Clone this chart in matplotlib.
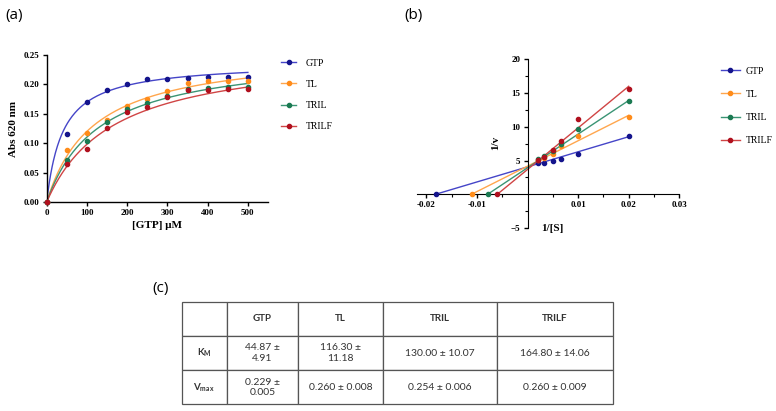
import matplotlib
matplotlib.use("Agg")
import matplotlib.pyplot as plt
import numpy as np

# ---- panel (a) : Michaelis-Menten ----
names = ["GTP", "TL", "TRIL", "TRILF"]
conc = [0, 50, 100, 150, 200, 250, 300, 350, 400, 450, 500]
abs_gtp = [0, 0.115, 0.170, 0.190, 0.200, 0.210, 0.210, 0.211, 0.213, 0.212, 0.213]
abs_tl = [0, 0.088, 0.117, 0.139, 0.163, 0.175, 0.189, 0.202, 0.206, 0.206, 0.205]
abs_tril = [0, 0.072, 0.104, 0.136, 0.158, 0.169, 0.180, 0.192, 0.194, 0.195, 0.195]
abs_trilf = [0, 0.064, 0.090, 0.126, 0.153, 0.161, 0.179, 0.190, 0.191, 0.192, 0.192]
fit_km = [40.0, 116.3, 130.0, 164.8]
fit_vmax = [0.238, 0.260, 0.254, 0.260]

# ---- panel (b) : Lineweaver-Burk ----
inv_s = [0.002, 0.00333, 0.005, 0.00667, 0.01, 0.02]
inv_v_gtp = [4.65, 4.70, 5.00, 5.25, 5.94, 8.66]
inv_v_tl = [5.15, 5.35, 6.00, 7.20, 8.70, 11.40]
inv_v_tril = [5.20, 5.70, 6.40, 7.50, 9.65, 13.86]
inv_v_trilf = [5.15, 5.50, 6.55, 7.95, 11.10, 15.60]
lb_xint = [-0.01815, -0.01105, -0.00787, -0.00596]
lb_yend = [8.53, 11.70, 13.90, 16.00]

# ---- panel (c) : table ----
col_labels = ["", "GTP", "TL", "TRIL", "TRILF"]
row_labels = ["K$_\\mathregular{M}$", "V$_\\mathregular{max}$"]
km_text = ["44.87 \u00b1\n4.91", "116.30 \u00b1\n11.18", "130.00 \u00b1 10.07", "164.80 \u00b1 14.06"]
vmax_text = ["0.229 \u00b1\n0.005", "0.260 \u00b1 0.008", "0.254 \u00b1 0.006", "0.260 \u00b1 0.009"]

mark_cols = ["#14148c", "#ff8c1a", "#1b7a52", "#b0101e"]
line_cols = ["#4545c8", "#ffa64d", "#3a9474", "#d04545"]

W, H = 776, 411
fig = plt.figure(figsize=(W / 100, H / 100), dpi=100)
serif = "Liberation Serif"

def fx(px):
    return px / W

def fy(py):
    return 1 - py / H

# (a)
ax1 = fig.add_axes([fx(46.7), fy(202), fx(268 - 46.7), (202 - 55) / H])
data_a = [abs_gtp, abs_tl, abs_tril, abs_trilf]
xs = np.linspace(0, 500, 300)
for k in range(4):
    curve = fit_vmax[k] * xs / (fit_km[k] + xs)
    ax1.plot(xs, curve, color=line_cols[k], lw=1.0, zorder=2)
    ax1.plot(conc, data_a[k], 'o', color=mark_cols[k], ms=3, zorder=3, clip_on=False)
ax1.set_xlim(0, 550)
ax1.set_ylim(0, 0.25)
ax1.set_xticks([0, 100, 200, 300, 400, 500])
ax1.set_yticks([0, 0.05, 0.10, 0.15, 0.20, 0.25])
ax1.set_yticklabels(["0.00", "0.05", "0.10", "0.15", "0.20", "0.25"])
for s in ["top", "right"]:
    ax1.spines[s].set_visible(False)
for s in ["left", "bottom"]:
    ax1.spines[s].set_linewidth(1.0)
ax1.tick_params(labelsize=6.5, length=3, width=1.0, pad=2)
for lab in ax1.get_xticklabels() + ax1.get_yticklabels():
    lab.set_fontfamily(serif)
    lab.set_fontweight("bold")
ax1.set_ylabel("Abs 620 nm", fontfamily=serif, fontweight="bold", fontsize=8, labelpad=4)
ax1.set_xlabel("[GTP] \u03bcM", fontfamily=serif, fontweight="bold", fontsize=8, labelpad=3)

h1 = [plt.Line2D([], [], color=line_cols[k], lw=1.0, marker='o', ms=3,
                 mfc=mark_cols[k], mec=mark_cols[k]) for k in range(4)]
fig.legend(h1, names, loc="upper left", bbox_to_anchor=(fx(272), fy(50)),
           frameon=False, prop={"family": serif, "size": 7}, handlelength=1.6,
           handletextpad=1.0, labelspacing=1.25)

# (b)
ax2 = fig.add_axes([fx(416.7), fy(228), fx(679.3 - 416.7), (228 - 59.3) / H])
data_b = [inv_v_gtp, inv_v_tl, inv_v_tril, inv_v_trilf]
for k in range(4):
    ax2.plot([lb_xint[k], 0.02], [0, lb_yend[k]], color=line_cols[k], lw=1.0, zorder=2)
    ax2.plot(inv_s + [lb_xint[k]], data_b[k] + [0], 'o', color=mark_cols[k], ms=3,
             zorder=3, clip_on=False)
ax2.set_xlim(-0.0219, 0.03)
ax2.set_ylim(-5, 20)
ax2.spines["left"].set_position(("data", 0))
ax2.spines["bottom"].set_position(("data", 0))
for s in ["top", "right"]:
    ax2.spines[s].set_visible(False)
ax2.set_xticks([-0.02, -0.01, 0.01, 0.02, 0.03])
ax2.set_xticklabels(["-0.02", "-0.01", "0.01", "0.02", "0.03"])
ax2.set_xticks([-0.015, -0.005, 0.005, 0.015, 0.025], minor=True)
ax2.set_yticks([-5, 5, 10, 15, 20])
ax2.set_yticks([-2.5, 2.5, 7.5, 12.5, 17.5], minor=True)
ax2.tick_params(labelsize=6.5, length=3, width=1.0, pad=2)
ax2.tick_params(which="minor", length=2, width=0.8)
for lab in ax2.get_xticklabels() + ax2.get_yticklabels():
    lab.set_fontfamily(serif)
    lab.set_fontweight("bold")
ax2.text(-0.0062, 7.6, "1/v", rotation=90, ha="center", va="center",
         fontfamily=serif, fontweight="bold", fontsize=8)
ax2.text(0.005, -5.0, "1/[S]", ha="center", va="center",
         fontfamily=serif, fontweight="bold", fontsize=8)

fig.legend(h1, names, loc="upper left", bbox_to_anchor=(fx(712), fy(58)),
           frameon=False, prop={"family": serif, "size": 7}, handlelength=2.0,
           handletextpad=0.6, labelspacing=1.45)

# panel letters
fig.text(fx(5), fy(15), "(a)", fontsize=11, fontfamily="Open Sans", va="center")
fig.text(fx(404), fy(15), "(b)", fontsize=11, fontfamily="Open Sans", va="center")
fig.text(fx(152), fy(288), "(c)", fontsize=11, fontfamily="Open Sans", va="center")

# (c)
ax3 = fig.add_axes([fx(181.7), fy(404.3), fx(613.3 - 181.7), (404.3 - 301.7) / H])
ax3.axis("off")
cells = [col_labels, [row_labels[0]] + km_text, [row_labels[1]] + vmax_text]
widths = np.array([45, 71.6, 85, 113.4, 116.6])
tab = ax3.table(cellText=cells, cellLoc="center", bbox=[0, 0, 1, 1],
                colWidths=list(widths / widths.sum()))
tab.auto_set_font_size(False)
for (r, c), cell in tab.get_celld().items():
    cell.set_edgecolor("#555555")
    cell.set_linewidth(0.9)
    t = cell.get_text()
    t.set_fontfamily("Lato")
    t.set_fontsize(7.5)
    t.set_color("#333333")
    if r == 0 or c == 0:
        t.set_fontweight("bold")
        t.set_fontsize(7)

fig.savefig("out.png", dpi=100)
